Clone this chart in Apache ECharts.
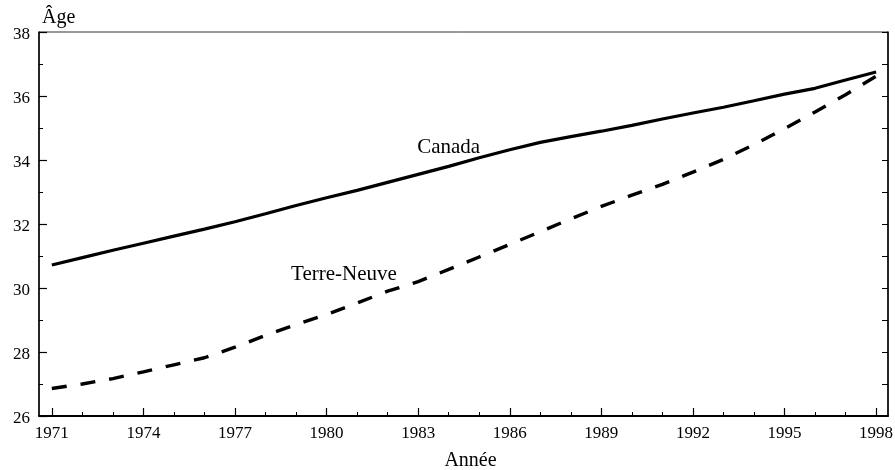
<!DOCTYPE html>
<html>
<head>
<meta charset="utf-8">
<script src="https://cdn.jsdelivr.net/npm/echarts@6/dist/echarts.min.js"></script>
<style>html,body{margin:0;padding:0;background:#fff}#c{width:895px;height:470px}</style>
</head>
<body>
<div id="c"></div>
<script>
const years = [1971,1972,1973,1974,1975,1976,1977,1978,1979,1980,1981,1982,1983,1984,1985,1986,1987,1988,1989,1990,1991,1992,1993,1994,1995,1996,1997,1998];
const canada = [30.72,30.95,31.18,31.40,31.62,31.84,32.07,32.32,32.58,32.82,33.05,33.30,33.55,33.80,34.07,34.32,34.55,34.73,34.90,35.08,35.28,35.47,35.65,35.85,36.06,36.24,36.50,36.75];
const terreNeuve = [26.86,27.00,27.17,27.38,27.60,27.82,28.15,28.52,28.86,29.17,29.53,29.90,30.20,30.58,30.97,31.36,31.76,32.16,32.55,32.90,33.24,33.62,34.02,34.48,34.98,35.50,36.04,36.62];
const majorYears = [1971,1974,1977,1980,1983,1986,1989,1992,1995,1998];
const seriesNames = ['Canada','Terre-Neuve'];
const yTitle = 'Âge';
const xTitle = 'Année';

const FONT = 'Liberation Serif';
const xMin = 1970.58, xMax = 1998.39;

function nameMark(name, coord) {
  return {
    symbol: 'circle', symbolSize: 2, silent: true,
    itemStyle: {color: 'rgba(0,0,0,0)'},
    data: [{coord: coord, name: name}],
    label: {show: true, position: 'inside', formatter: name, fontFamily: FONT, fontSize: 21, color: '#000'}
  };
}

const chart = echarts.init(document.getElementById('c'));
chart.setOption({
  animation: false,
  backgroundColor: '#fff',
  textStyle: {fontFamily: FONT, color: '#000'},
  grid: {left: 39, right: 7, top: 32, bottom: 54, outerBoundsMode: 'none', containLabel: false, show: true, borderColor: '#333', borderWidth: 1, backgroundColor: 'transparent'},
  xAxis: [
    {
      type: 'value', min: xMin, max: xMax, position: 'bottom',
      name: xTitle, nameLocation: 'middle', nameGap: 35,
      nameTextStyle: {fontFamily: FONT, fontSize: 20, color: '#000', padding: [0,0,0,14]},
      axisLine: {show: true, onZero: false, lineStyle: {color: '#000', width: 2}},
      axisTick: {show: true, inside: true, length: 8, customValues: majorYears, lineStyle: {color: '#000', width: 1.2}},
      axisLabel: {show: true, customValues: majorYears, formatter: v => String(v), margin: 9, fontFamily: FONT, fontSize: 17, color: '#000'},
      splitLine: {show: false}
    },
    {
      type: 'value', min: xMin, max: xMax, position: 'bottom',
      axisLine: {show: false},
      axisTick: {show: true, inside: true, length: 4, customValues: years, lineStyle: {color: '#000', width: 1}},
      axisLabel: {show: false},
      splitLine: {show: false}
    }
  ],
  yAxis: [
    {
      type: 'value', min: 26, max: 38, interval: 2, position: 'left',
      name: yTitle, nameLocation: 'end', nameGap: 4,
      nameTextStyle: {fontFamily: FONT, fontSize: 20, color: '#000', align: 'left', padding: [0,0,0,3]},
      axisLine: {show: true, onZero: false, lineStyle: {color: '#000', width: 1.5}},
      axisTick: {show: true, inside: true, length: 8, lineStyle: {color: '#000', width: 1.2}},
      minorTick: {show: true, splitNumber: 2, length: 4, lineStyle: {color: '#000', width: 1}},
      axisLabel: {
        show: true, margin: 9, fontFamily: FONT, fontSize: 17, color: '#000',
        formatter: v => '{a|' + v + '}',
        rich: {a: {fontFamily: FONT, fontSize: 17, color: '#000', padding: [6, 0, 0, 0]}}
      },
      splitLine: {show: false}
    },
    {
      type: 'value', min: 26, max: 38, interval: 1, position: 'right',
      axisLine: {show: true, onZero: false, lineStyle: {color: '#000', width: 1.5}},
      axisTick: {show: true, inside: true, length: 6, lineStyle: {color: '#000', width: 1}},
      axisLabel: {show: false},
      splitLine: {show: false}
    }
  ],
  series: [
    {
      name: seriesNames[0], type: 'line', xAxisIndex: 0, yAxisIndex: 0,
      data: years.map((y, i) => [y, canada[i]]),
      showSymbol: false, symbol: 'none',
      lineStyle: {color: '#000', width: 3.2, type: 'solid'},
      markPoint: nameMark(seriesNames[0], [1984.0, 34.38])
    },
    {
      name: seriesNames[1], type: 'line', xAxisIndex: 0, yAxisIndex: 0,
      data: years.map((y, i) => [y, terreNeuve[i]]),
      showSymbol: false, symbol: 'none',
      lineStyle: {color: '#000', width: 3.4, type: [15, 14]},
      markPoint: nameMark(seriesNames[1], [1980.57, 30.42])
    }
  ]
});
</script>
</body>
</html>
